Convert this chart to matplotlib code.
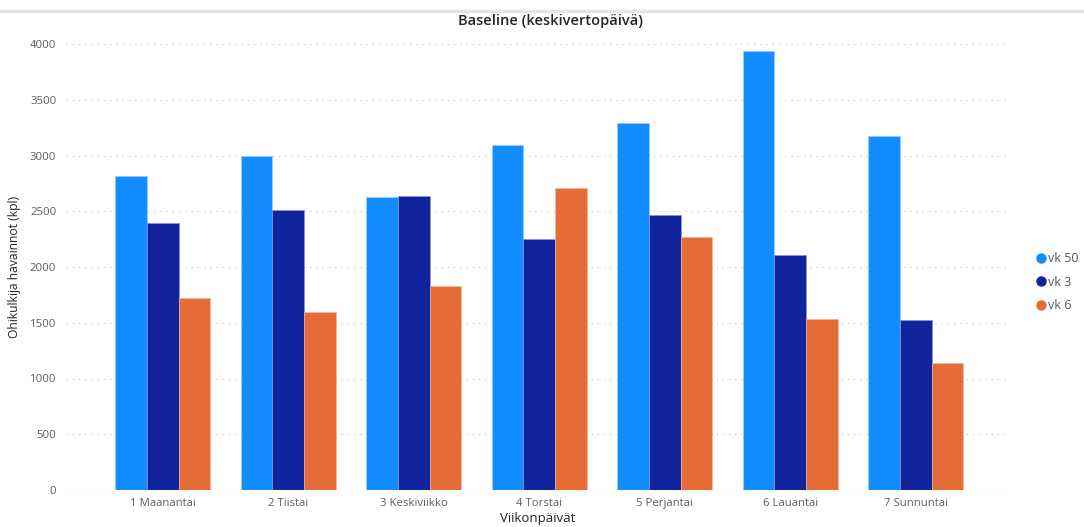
import numpy as np
import matplotlib
matplotlib.use('agg')
import matplotlib.pyplot as plt
from matplotlib.lines import Line2D

days = ['1 Maanantai', '2 Tiistai', '3 Keskiviikko', '4 Torstai',
        '5 Perjantai', '6 Lauantai', '7 Sunnuntai']
series_names = ['vk 50', 'vk 3', 'vk 6']
vk50 = [2815, 2995, 2625, 3095, 3290, 3940, 3175]
vk3 = [2395, 2515, 2635, 2255, 2465, 2105, 1525]
vk6 = [1725, 1600, 1830, 2705, 2265, 1535, 1135]
yticks = [0, 500, 1000, 1500, 2000, 2500, 3000, 3500, 4000]

colors = ['#118DFF', '#12239E', '#E66C37']
plt.rcParams['font.family'] = ['Open Sans', 'DejaVu Sans']

fig = plt.figure(figsize=(10.84, 5.27), dpi=100)
ax = fig.add_axes([66 / 1084, 37 / 527, 944 / 1084, 446 / 527])

x = np.arange(len(days))
w = 0.253
edges = ['#9fd0ff', '#8a93d0', '#f3b59b']
for i, (vals, c, e) in enumerate(zip([vk50, vk3, vk6], colors, edges)):
    ax.bar(x + (i - 1) * w, vals, width=w, color=c, edgecolor=e,
           linewidth=0.5, zorder=3)

ax.set_xlim(-0.77, 6.75)
ax.set_ylim(0, 4000)
ax.set_yticks(yticks)
ax.set_xticks(x)
ax.set_xticklabels(days)
ax.tick_params(length=0, labelsize=8.2, labelcolor='#605e5c')
ax.tick_params(axis='y', pad=7)
ax.tick_params(axis='x', pad=6)
ax.grid(axis='y', color='#c8c8c8', linestyle=(0, (1, 4)), linewidth=0.9, zorder=0)
for s in ax.spines.values():
    s.set_visible(False)

ax.set_xlabel('Viikonpäivät', fontsize=9.5, color='#252423', labelpad=2)
ax.set_ylabel('Ohikulkija havainnot (kpl)', fontsize=8.7, color='#252423')
ax.yaxis.set_label_coords(-(66 - 21) / 944, 0.5)
fig.text(550 / 1084, 1 - 21 / 527, 'Baseline (keskivertopäivä)', ha='center',
         va='center', fontsize=10.5, fontweight='semibold', color='#252423')

# thin header strip across the top
fig.add_artist(Line2D([0, 1], [1 - 11 / 527, 1 - 11 / 527], color='#e6e6e6',
                      linewidth=2.5, transform=fig.transFigure))

handles = [Line2D([], [], marker='o', linestyle='', color=c, markersize=6.5)
           for c in colors]
leg = fig.legend(handles, series_names, loc='center left',
                 bbox_to_anchor=(1027 / 1084, 1 - 282 / 527), frameon=False,
                 fontsize=9, handletextpad=0.0, labelspacing=0.85,
                 handlelength=1.2, borderpad=0)
for t in leg.get_texts():
    t.set_color('#4f5b66')

fig.savefig('out.png', dpi=100)
